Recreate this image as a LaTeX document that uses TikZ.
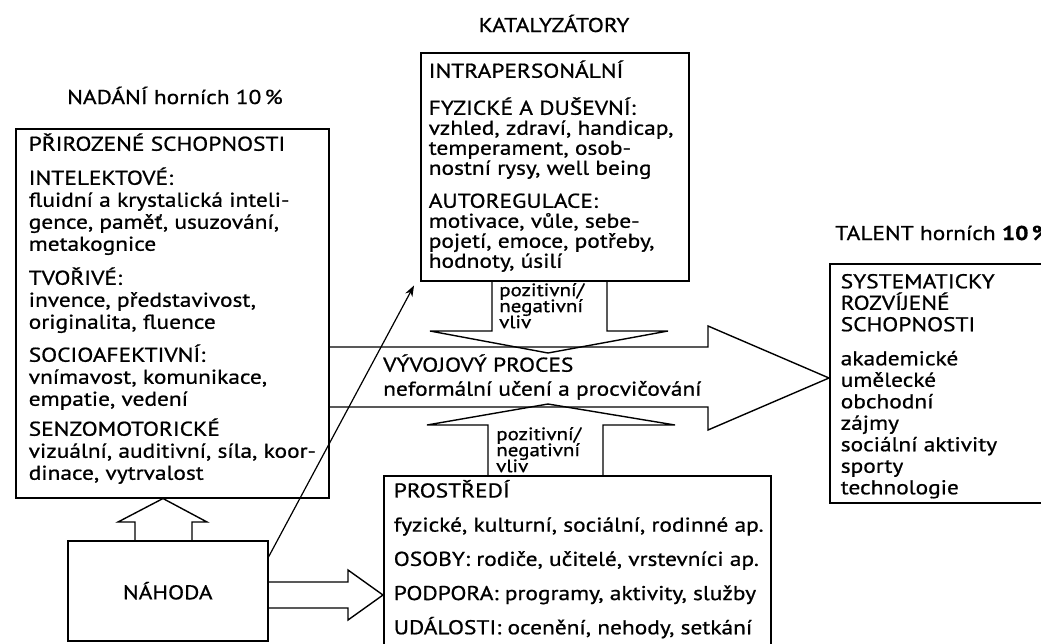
\documentclass[tikz,border=0pt]{standalone}
\usepackage{fontspec}
\setmainfont{PT Sans}[FakeStretch=1.17,FakeBold=0.8]
\usetikzlibrary{arrows.meta,calc}
\newcommand{\fsz}[1]{\fontsize{20}{#1}\selectfont\lineskiplimit=-200pt\lineskip=0pt}
\newcommand{\fsm}[1]{\fontsize{18}{#1}\selectfont\lineskiplimit=-200pt\lineskip=0pt}
% width, height, left pad, top pad, content
\newcommand{\boxtxt}[5]{\begin{minipage}[t][#2pt][t]{#1pt}\vspace*{#4pt}\hbox{}\leftskip=#3pt\rightskip=-120pt plus 1fil\parindent=0pt\parfillskip=0pt plus 1fil\hbadness=10000
#5\par\end{minipage}}
\tikzset{
  x=1pt, y=-1pt,
  box/.style={draw, line width=1.5pt, inner sep=0pt, anchor=north west},
  lbl/.style={inner sep=0pt, font=\fsz{22}},
  fat/.style={draw, line width=1.4pt, line join=miter},
  thinarrow/.style={draw, line width=1.2pt, -{Stealth[length=11pt,width=8pt]}},
}
\begin{document}
\begin{tikzpicture}
\fill[white] (0,0) rectangle (1041,643);
\useasboundingbox (0,0) rectangle (1041,643);

% titles
\node[lbl, anchor=base] (kat) at (554,32) {KATALYZÁTORY};
\node[lbl, anchor=base west] (nadt) at (67,104) {NADÁNÍ horních 10\,\%};
\node[lbl, anchor=base west] (talt) at (835,240) {TALENT horních \textbf{10\,\%}};

% left box
\node[box, font=\fsz{22}] (nad) at (15,128) {\boxtxt{313}{369}{13}{0}{%
PŘIROZENÉ SCHOPNOSTI\\[12pt]
INTELEKTOVÉ:\\
fluidní a krystalická inteli-\\
gence, paměť, usuzování,\\
metakognice\\[12pt]
TVOŘIVÉ:\\
invence, představivost,\\
originalita, fluence\\[11pt]
SOCIOAFEKTIVNÍ:\\
vnímavost, komunikace,\\
empatie, vedení\\[8pt]
SENZOMOTORICKÉ\\
vizuální, auditivní, síla, koor-\\
dinace, vytrvalost}};

% intrapersonal box
\node[box, font=\fsz{20}] (intra) at (420,52) {\boxtxt{268}{228}{8}{5}{%
INTRAPERSONÁLNÍ\\[17pt]
FYZICKÉ A DUŠEVNÍ:\\
vzhled, zdraví, handicap,\\
temperament, osob-\\
nostní rysy, well being\\[13pt]
AUTOREGULACE:\\
motivace, vůle, sebe-\\
pojetí, emoce, potřeby,\\
hodnoty, úsilí}};

% right box
\node[box, font=\fsz{21.5}] (tal) at (829,263) {\boxtxt{240}{239}{11}{3}{%
SYSTEMATICKY\\
ROZVÍJENÉ\\
SCHOPNOSTI\\[12.5pt]
akademické\\
umělecké\\
obchodní\\
zájmy\\
sociální aktivity\\
sporty\\
technologie}};

% environment box
\node[box, font=\fsz{21.7}] (prost) at (383,475) {\boxtxt{387}{190}{10}{0}{%
PROSTŘEDÍ\\[12.5pt]
fyzické, kulturní, sociální, rodinné ap.\\[12.5pt]
OSOBY: rodiče, učitelé, vrstevníci ap.\\[12.5pt]
PODPORA: programy, aktivity, služby\\[12.5pt]
UDÁLOSTI: ocenění, nehody, setkání}};

% chance box
\node[box, font=\fsz{22}, minimum width=200pt, minimum height=100pt] (nah) at (67,540) {NÁHODA};

% big horizontal arrow (developmental process)
\draw[fat] (nad.east |- 0,347) -- (708,347) -- (708,326) -- (tal.west |- 0,378) -- (708,430) -- (708,407) -- (nad.east |- 0,407);
\node[lbl, anchor=west, font=\fsz{24}, align=left] (proc) at (383,377) {VÝVOJOVÝ PROCES\\neformální učení a procvičování};

% down arrow from catalysts
\draw[fat] (intra.south -| 492,0) -- (492,331) -- (430,331) -- (548,353) -- (668,331) -- (607,331) -- (intra.south -| 607,0);
\node[lbl, anchor=north west, align=left, font=\fsm{16}] (vliv1) at (499,283) {pozitivní/\\negativní\\vliv};

% up arrow from environment
\draw[fat] (prost.north -| 488,0) -- (488,425) -- (427,425) -- (548,404) -- (675,425) -- (603,425) -- (prost.north -| 603,0);
\node[lbl, anchor=north west, align=left, font=\fsm{16}] (vliv2) at (496,427) {pozitivní/\\negativní\\vliv};

% chance -> natural abilities
\draw[fat] (nah.north -| 135,0) -- (135,522) -- (118,522) -- (nad.south -| 163,0) -- (207,522) -- (192,522) -- (nah.north -| 192,0);

% chance -> environment
\draw[fat] (nah.east |- 0,582) -- (348,582) -- (348,570) -- (prost.west |- 0,595) -- (348,620) -- (348,608) -- (nah.east |- 0,608);

% chance -> catalysts
\coordinate (c1) at ($(nah.north east)+(0,17)$);
\draw[thinarrow] (c1) -- ($(intra.south west)+(-6,4)$);
\end{tikzpicture}
\end{document}
